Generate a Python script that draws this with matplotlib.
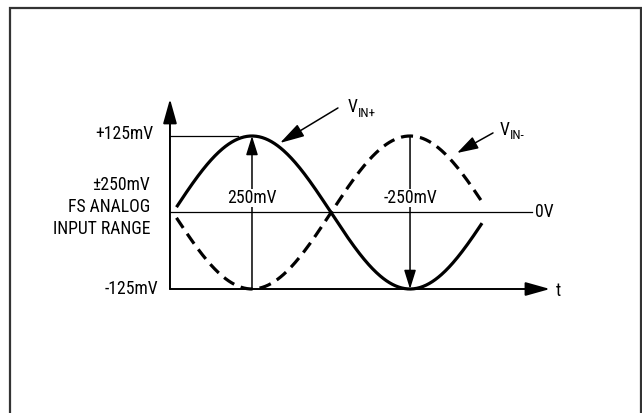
import numpy as np
import matplotlib
matplotlib.use("Agg")
import matplotlib.pyplot as plt
from matplotlib.patches import Rectangle

plt.rcParams['font.family'] = ['Roboto Condensed', 'DejaVu Sans']

# full scale (mV), phase range of the drawn waveforms (degrees)
amp_mv = 125
phase_start, phase_end = 4, 352
vin_pos_sub = 'IN+'
vin_neg_sub = 'IN-'
level_labels = ['+125mV', '-125mV', '0V']
range_labels = ['\u00b1250mV', 'FS ANALOG', 'INPUT RANGE']
swing_labels = ['250mV', '-250mV']

phase = np.linspace(phase_start, phase_end, 400)
vin_pos = amp_mv * np.sin(np.radians(phase))
vin_neg = -vin_pos

fig = plt.figure(figsize=(6.42, 4.13), dpi=100)
ax = fig.add_axes([0, 0, 1, 1])
ax.set_xlim(-197.0, 534.2)
ax.set_ylim(-327.6, 347.2)
ax.axis('off')

# outer frame
fig.patches.append(Rectangle((10 / 642, -0.1), 631 / 642, 1.1 - 7.5 / 413,
                             transform=fig.transFigure, fill=False,
                             edgecolor='#333333', linewidth=1.6))

fs = 12.7
k = 'black'


def arrow(tip, tail, hl, hw, lw):
    ax.annotate('', xy=tip, xytext=tail,
                arrowprops=dict(arrowstyle=f'-|>,head_length={hl},head_width={hw}',
                                color=k, lw=lw, shrinkA=0, shrinkB=0))


# axes with arrows
arrow((-3.4, 185.5), (-3.4, -125), 1.5, 0.42, 1.4)
arrow((429.4, -125), (-3.4, -125), 1.5, 0.42, 1.4)
ax.plot([-3.4, 409], [0, 0], color=k, lw=0.9)
ax.plot([-3.4, 74], [amp_mv, amp_mv], color=k, lw=0.9)

# waveforms
ax.plot(phase, vin_pos, color=k, lw=2.3, solid_capstyle='butt')
ax.plot(phase, vin_neg, color=k, lw=2.3, linestyle=(0, (3.8, 2.2)),
        dash_capstyle='butt')

# peak-to-peak arrows
arrow((90, amp_mv), (90, -amp_mv), 1.15, 0.36, 1.1)
arrow((270, -amp_mv), (270, amp_mv), 1.15, 0.36, 1.1)
for xv, lbl in zip([90, 270], swing_labels):
    ax.text(xv, 23.7, lbl, ha='center', va='center', fontsize=fs,
            bbox=dict(facecolor='white', edgecolor='none', pad=0.3))

# pointer arrows to the waveforms
arrow((121.9, 113.6), (187.9, 170.8), 1.5, 0.42, 1.1)
arrow((323.5, 97.2), (364.5, 130), 1.3, 0.4, 1.1)
for (xv, yv), sub in zip([(199, 172), (372.4, 135)], [vin_pos_sub, vin_neg_sub]):
    t = ax.text(xv, yv, 'V', ha='left', va='center', fontsize=fs)
    ax.annotate(sub, xy=(1, 0), xycoords=t, xytext=(0.3, -2.5),
                textcoords='offset points', ha='left', va='bottom', fontsize=9.5)

# level labels
ax.text(-22.8, 128, level_labels[0], ha='right', va='center', fontsize=fs)
ax.text(-17, -125, level_labels[1], ha='right', va='center', fontsize=fs)
ax.text(412, 0, level_labels[2], ha='left', va='center', fontsize=fs)
ax.text(436, -128, 't', ha='left', va='center', fontsize=fs)

for lbl, yv in zip(range_labels, [45, 9, -27]):
    ax.text(-26, yv, lbl, ha='right', va='center', fontsize=fs)

fig.savefig('out.png', dpi=100)
